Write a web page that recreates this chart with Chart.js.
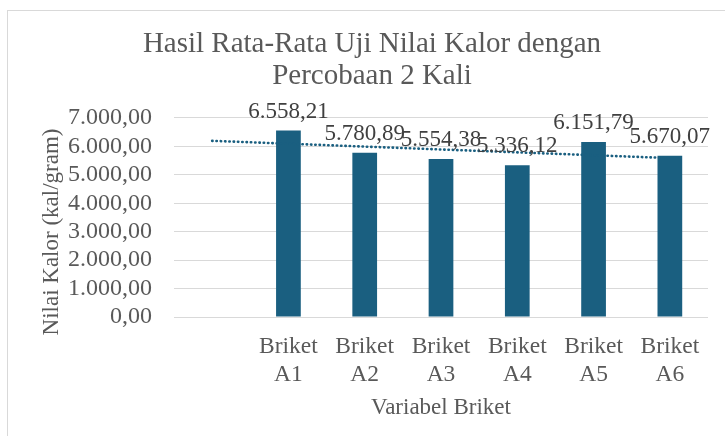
<!DOCTYPE html>
<html>
<head>
<meta charset="utf-8">
<script src="https://cdn.jsdelivr.net/npm/chart.js@4.4.0/dist/chart.umd.min.js"></script>
<style>
  html, body { margin: 0; padding: 0; background: #fff; }
</style>
</head>
<body>
<canvas id="kalor-chart" width="725" height="436"></canvas>
<script>
// --Data-- //
const categories = ['', 'Briket A1', 'Briket A2', 'Briket A3', 'Briket A4', 'Briket A5', 'Briket A6'];
const kalorValues = [null, 6558.21, 5780.89, 5554.38, 5336.12, 6151.79, 5670.07];
const yTicks = [0, 1000, 2000, 3000, 4000, 5000, 6000, 7000];

const chartTitle = ['Hasil Rata-Rata Uji Nilai Kalor dengan', 'Percobaan 2 Kali'];
const xTitle = 'Variabel Briket';
const yTitle = 'Nilai Kalor (kal/gram)';

const barColor = '#1a5f80';
const textColor = '#595959';
const fontFamily = "'Liberation Serif', 'Times New Roman', serif";

// number format like 6.558,21
const fmt = (v) => {
    const parts = Number(v).toFixed(2).split('.');
    parts[0] = parts[0].replace(/\B(?=(\d{3})+(?!\d))/g, '.');
    return parts[0] + ',' + parts[1];
};

// linear trendline (excel style, x = 1..n, blank points skipped)
const pts = kalorValues.map((v, i) => [i + 1, v]).filter(p => p[1] !== null);
const mx = pts.reduce((s, p) => s + p[0], 0) / pts.length;
const my = pts.reduce((s, p) => s + p[1], 0) / pts.length;
let sxy = 0, sxx = 0;
pts.forEach(p => { sxy += (p[0] - mx) * (p[1] - my); sxx += (p[0] - mx) * (p[0] - mx); });
const slope = sxy / sxx;
const trendValues = categories.map((c, i) => my + slope * (i + 1 - mx));

// labels on two lines: "Briket" / "A1"
const labels = categories.map(c => c ? c.split(' ') : '');

const frame = {
    id: 'frame',
    beforeDraw(chart) {
        const ctx = chart.ctx;
        ctx.save();
        ctx.fillStyle = '#fff';
        ctx.fillRect(0, 0, chart.width, chart.height);
        ctx.strokeStyle = '#d9d9d9';
        ctx.lineWidth = 1;
        ctx.strokeRect(7.5, 10.5, chart.width + 20, chart.height + 20);
        ctx.restore();
    }
};

const valueLabels = {
    id: 'valueLabels',
    afterDatasetsDraw(chart) {
        const ctx = chart.ctx;
        const meta = chart.getDatasetMeta(0);
        ctx.save();
        ctx.font = '23px ' + fontFamily;
        ctx.fillStyle = '#404040';
        ctx.textAlign = 'center';
        ctx.textBaseline = 'alphabetic';
        meta.data.forEach((bar, i) => {
            const v = kalorValues[i];
            if (v === null) return;
            ctx.fillText(fmt(v), bar.x, bar.y - 13);
        });
        ctx.restore();
    }
};

const yAxisTitle = {
    id: 'yAxisTitle',
    afterDraw(chart) {
        const ctx = chart.ctx;
        ctx.save();
        ctx.translate(52, 232);
        ctx.rotate(-Math.PI / 2);
        ctx.font = '23px ' + fontFamily;
        ctx.fillStyle = textColor;
        ctx.textAlign = 'center';
        ctx.textBaseline = 'middle';
        ctx.fillText(yTitle, 0, 0);
        ctx.restore();
    }
};

const kalorChart = new Chart(document.getElementById('kalor-chart'), {
    data: {
        labels: labels,
        datasets: [{
            type: 'bar',
            data: kalorValues,
            backgroundColor: barColor,
            categoryPercentage: 1,
            barPercentage: 0.324,
            order: 1
        }, {
            type: 'line',
            data: trendValues,
            borderColor: barColor,
            borderWidth: 2.6,
            borderDash: [0.4, 3.9],
            borderCapStyle: 'round',
            pointRadius: 0,
            fill: false,
            tension: 0,
            order: 0
        }]
    },
    options: {
        responsive: false,
        animation: false,
        layout: {
            padding: { left: 36, right: 17, top: 0, bottom: 0 }
        },
        scales: {
            x: {
                grid: { display: false, drawTicks: false },
                border: { display: false },
                ticks: {
                    color: textColor,
                    font: { family: fontFamily, size: 23.5, lineHeight: 1.2 },
                    padding: 15.5,
                    maxRotation: 0,
                    autoSkip: false
                },
                title: {
                    display: true,
                    text: xTitle,
                    color: textColor,
                    font: { family: fontFamily, size: 23, lineHeight: 1.2 },
                    padding: { top: 0, bottom: 14 }
                },
                afterFit(scale) {
                    scale.height = 119;
                }
            },
            y: {
                min: yTicks[0],
                max: yTicks[yTicks.length - 1],
                grid: { color: '#d9d9d9', drawTicks: false },
                border: { display: false },
                ticks: {
                    stepSize: yTicks[1] - yTicks[0],
                    autoSkip: false,
                    color: textColor,
                    font: { family: fontFamily, size: 24 },
                    padding: 22,
                    callback: (value) => fmt(value)
                },
                afterFit(scale) {
                    scale.width = 138;
                }
            }
        },
        plugins: {
            legend: { display: false },
            tooltip: { enabled: false },
            title: {
                display: true,
                text: chartTitle,
                color: textColor,
                font: { family: fontFamily, size: 29, weight: 'normal', lineHeight: 1.093 },
                padding: { top: 29, bottom: 25.6 }
            }
        }
    },
    plugins: [frame, valueLabels, yAxisTitle]
});
</script>
</body>
</html>
